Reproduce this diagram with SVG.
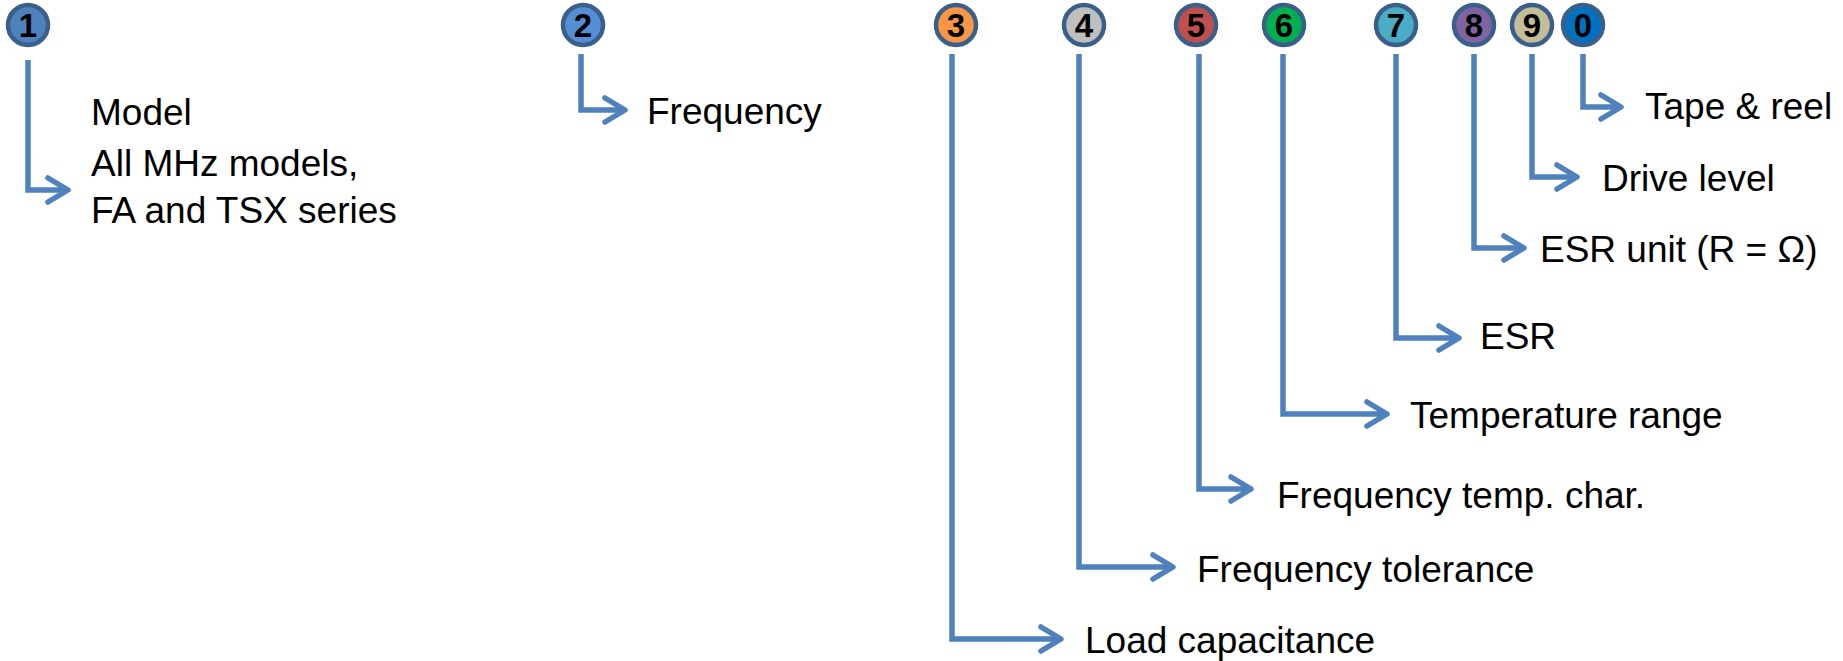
<svg xmlns="http://www.w3.org/2000/svg" width="1843" height="661" viewBox="0 0 1843 661">
<style>
.bg{fill:#ffffff}
.badge circle{stroke:#3A5F8B;stroke-width:4.5}
.badge text{font-family:"Liberation Sans",Arial,sans-serif;font-weight:bold;font-size:33px;fill:#000;text-anchor:middle}
.lbl{font-family:"Liberation Sans",Arial,sans-serif;font-size:37px;fill:#000}
.conn{fill:none;stroke:#4F81BD;stroke-width:5.5;stroke-linejoin:miter}
</style>
<defs>
<marker id="arr" markerUnits="userSpaceOnUse" viewBox="-26 -16 30 32" refX="0" refY="0" markerWidth="30" markerHeight="32" orient="auto" overflow="visible">
<path d="M -20 -12 L 0 0 L -20 12" fill="none" stroke="#4F81BD" stroke-width="5.5" stroke-linecap="round" stroke-linejoin="round"/>
</marker>
</defs>
<rect class="bg" x="0" y="0" width="1843" height="661"/>
<g id="connectors">
<path class="conn" d="M28 60 V190 H68" marker-end="url(#arr)"/>
<path class="conn" d="M581 54 V110 H625" marker-end="url(#arr)"/>
<path class="conn" d="M952 54 V639 H1061" marker-end="url(#arr)"/>
<path class="conn" d="M1079 54 V567 H1173" marker-end="url(#arr)"/>
<path class="conn" d="M1199 54 V489 H1251" marker-end="url(#arr)"/>
<path class="conn" d="M1283 54 V414 H1387" marker-end="url(#arr)"/>
<path class="conn" d="M1396 54 V338 H1459" marker-end="url(#arr)"/>
<path class="conn" d="M1474 54 V248 H1524" marker-end="url(#arr)"/>
<path class="conn" d="M1532 54 V177 H1577" marker-end="url(#arr)"/>
<path class="conn" d="M1583 54 V107 H1621" marker-end="url(#arr)"/>
</g>
<g id="n1" class="badge"><circle cx="28" cy="25" r="20" fill="#4F81BD"/><text x="28" y="37">1</text></g>
<g id="n2" class="badge"><circle cx="583" cy="25" r="20" fill="#558ED5"/><text x="583" y="37">2</text></g>
<g id="n3" class="badge"><circle cx="956" cy="25" r="20" fill="#F79646"/><text x="956" y="37">3</text></g>
<g id="n4" class="badge"><circle cx="1084" cy="25" r="20" fill="#BFBFBF"/><text x="1084" y="37">4</text></g>
<g id="n5" class="badge"><circle cx="1196" cy="25" r="20" fill="#C0504D"/><text x="1196" y="37">5</text></g>
<g id="n6" class="badge"><circle cx="1284" cy="25" r="20" fill="#00B050"/><text x="1284" y="37">6</text></g>
<g id="n7" class="badge"><circle cx="1396" cy="25" r="20" fill="#4BACC6"/><text x="1396" y="37">7</text></g>
<g id="n8" class="badge"><circle cx="1474" cy="25" r="20" fill="#8064A2"/><text x="1474" y="37">8</text></g>
<g id="n9" class="badge"><circle cx="1532" cy="25" r="20" fill="#C4BD97"/><text x="1532" y="37">9</text></g>
<g id="n0" class="badge"><circle cx="1583" cy="25" r="20" fill="#0070C0"/><text x="1583" y="37">0</text></g>
<g id="label1"><text class="lbl" x="91" y="125">Model</text><text class="lbl" x="91" y="176">All MHz models,</text><text class="lbl" x="91" y="223">FA and TSX series</text></g>
<g id="label2"><text class="lbl" x="647" y="124">Frequency</text></g>
<g id="label3"><text class="lbl" x="1085" y="653">Load capacitance</text></g>
<g id="label4"><text class="lbl" x="1197" y="582">Frequency tolerance</text></g>
<g id="label5"><text class="lbl" x="1277" y="508">Frequency temp. char.</text></g>
<g id="label6"><text class="lbl" x="1410" y="428">Temperature range</text></g>
<g id="label7"><text class="lbl" x="1480" y="349">ESR</text></g>
<g id="label8"><text class="lbl" x="1540" y="262">ESR unit (R = Ω)</text></g>
<g id="label9"><text class="lbl" x="1602" y="191">Drive level</text></g>
<g id="label0"><text class="lbl" x="1645" y="119">Tape &amp; reel</text></g>
</svg>
